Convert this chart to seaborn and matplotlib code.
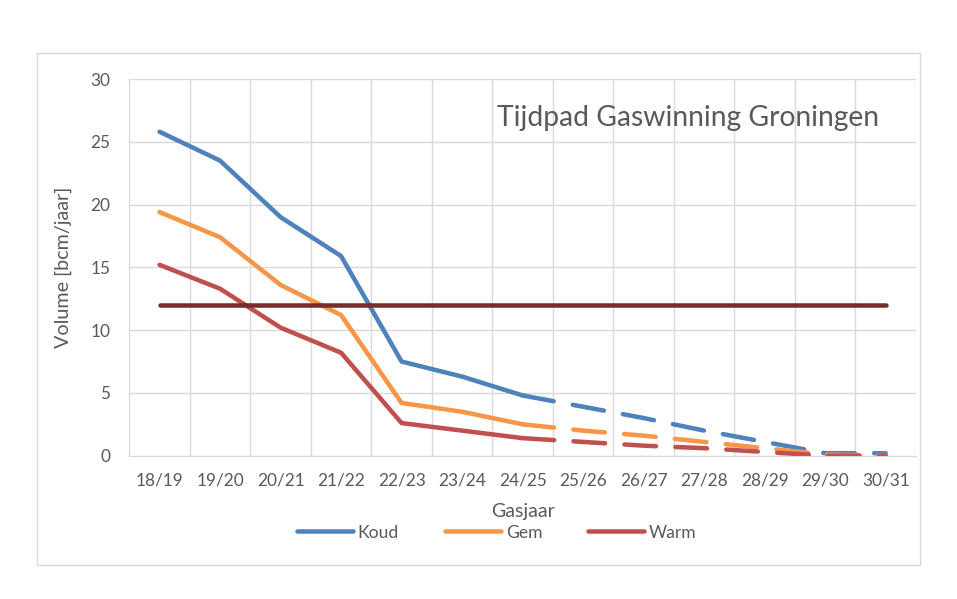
import numpy as np
import pandas as pd
import matplotlib.pyplot as plt
import seaborn as sns
from matplotlib.patches import Rectangle
from matplotlib.ticker import FixedLocator

jaren = ["18/19", "19/20", "20/21", "21/22", "22/23", "23/24", "24/25",
         "25/26", "26/27", "27/28", "28/29", "29/30", "30/31"]
koud = [25.8, 23.5, 19.0, 15.9, 7.5, 6.3, 4.8, 3.9, 3.0, 2.0, 1.1, 0.2, 0.2]
gem = [19.4, 17.4, 13.6, 11.2, 4.2, 3.5, 2.5, 2.0, 1.6, 1.1, 0.6, 0.1, 0.0]
warm = [15.2, 13.3, 10.2, 8.2, 2.6, 2.0, 1.4, 1.1, 0.8, 0.6, 0.3, 0.0, 0.0]
grens = [12, 12, 12, 12, 12, 12, 12, 12, 12, 12, 12, 12, 12]

# last measured year, from here on the lines are dashed
split = jaren.index("24/25")

colors = {"Koud": "#4F81BD", "Gem": "#F79646", "Warm": "#C0504D"}
grey_txt = "#595959"
grid_c = "#D9D9D9"

sns.set_style("white")
plt.rcParams["font.family"] = ["Lato", "DejaVu Sans"]

fig = plt.figure(figsize=(9.57, 5.99), dpi=100)
ax = fig.add_axes([0.1351, 0.2392, 0.8220, 0.6289])

pos = np.arange(len(jaren))
lw = 3.25

for name, vals in [("Koud", koud), ("Gem", gem), ("Warm", warm)]:
    df = pd.DataFrame({"x": pos, "y": vals})
    sns.lineplot(data=df.iloc[:split + 1], x="x", y="y", ax=ax, color=colors[name],
                 lw=lw, solid_capstyle="round", label=name)
    sns.lineplot(data=df.iloc[split:], x="x", y="y", ax=ax, color=colors[name],
                 lw=lw, dashes=(7, 4.3), dash_capstyle="round")

sns.lineplot(x=pos, y=grens, ax=ax, color="#772C2A", lw=lw, solid_capstyle="round")

ax.set_xlim(-0.5, len(jaren) - 0.5)
ax.set_ylim(0, 30)
ax.set_yticks(range(0, 31, 5))
ax.set_xticks(pos)
ax.set_xticklabels(jaren)
ax.xaxis.set_minor_locator(FixedLocator(np.arange(-0.5, len(jaren), 1.0)))
ax.grid(axis="y", which="major", color=grid_c, lw=1)
ax.grid(axis="x", which="minor", color=grid_c, lw=1)
ax.grid(axis="x", which="major", visible=False)
ax.set_axisbelow(True)
for s in ["top", "right", "left"]:
    ax.spines[s].set_visible(False)
ax.spines["bottom"].set_color(grid_c)
ax.tick_params(axis="both", which="both", length=0, labelsize=12.4, colors=grey_txt)
ax.tick_params(axis="y", pad=13.5)
ax.tick_params(axis="x", pad=12)

ax.set_xlabel("Gasjaar", fontsize=14, color=grey_txt)
ax.xaxis.set_label_coords(0.5, -0.125)
ax.set_ylabel("Volume [bcm/jaar]", fontsize=14.2, color=grey_txt)
ax.yaxis.set_label_coords(-0.073, 0.5)

fig.text(0.519, 0.7896, "Tijdpad Gaswinning Groningen", fontsize=20.3,
         color=grey_txt, va="baseline", ha="left")

leg = ax.legend(loc="center", bbox_to_anchor=(0.519, 0.111), bbox_transform=fig.transFigure,
                ncol=3, frameon=False, fontsize=12.6, handlelength=3.2,
                columnspacing=2.6, handletextpad=0.3)
for t in leg.get_texts():
    t.set_color(grey_txt)

fig.patches.append(Rectangle((0.0387, 0.0568), 0.9227, 0.8553, transform=fig.transFigure,
                             fill=False, edgecolor=grid_c, lw=1))

fig.savefig("out.png", dpi=100, facecolor="white")
